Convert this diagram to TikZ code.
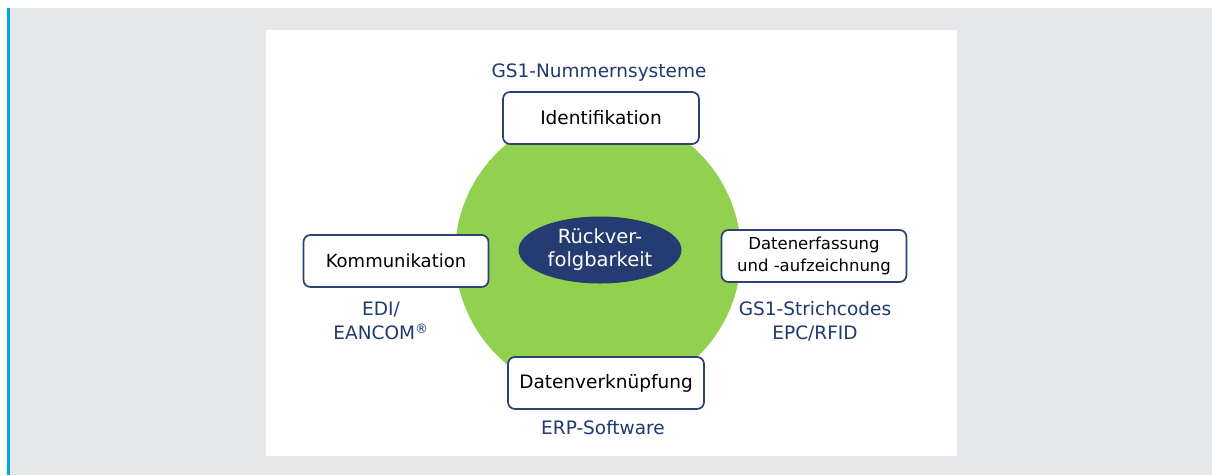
\documentclass[tikz,border=0pt]{standalone}
\usepackage{fontspec}
\setmainfont{DejaVu Sans}
\usepackage{xcolor}
\usetikzlibrary{positioning,shapes.geometric}

\definecolor{pagegrey}{HTML}{E6E7E9}
\definecolor{barblue}{HTML}{00A6E2}
\definecolor{ringgreen}{HTML}{92D050}
\definecolor{coreblue}{HTML}{253C73}
\definecolor{boxline}{HTML}{2E4272}
\definecolor{tagblue}{HTML}{1F3A6E}

\tikzset{
    topic/.style={draw=boxline, line width=1.7pt, rounded corners=7pt, fill=white,
        text=black, align=center, inner sep=0pt, minimum height=52pt,
        font=\fontsize{18.5}{22}\selectfont},
    tag/.style={text=tagblue, align=center, inner sep=0pt,
        font=\fontsize{18.5}{24}\selectfont}
}

\begin{document}
\begin{tikzpicture}[x=1pt,y=-1pt]
    \useasboundingbox (0,0) rectangle (1212,475);

    % Background
    \fill[pagegrey] (7,8) rectangle (1212,475);
    \fill[barblue] (7,8) rectangle (10,475);
    \fill[white] (266,30) rectangle (957,456);

    % Circle and centre
    \node[circle, fill=ringgreen, minimum size=286pt, inner sep=0pt] (ring) at (598,254) {};
    \node[ellipse, fill=coreblue, minimum width=163pt, minimum height=67pt, inner sep=0pt,
        text=white, align=center, font=\fontsize{19.5}{23}\selectfont] (core) at (600,250)
        {Rückver-\\folgbarkeit};

    % Boxes
    \node[topic, minimum width=196pt] (ident) at (601,118) {Identifikation};
    \node[topic, minimum width=185pt, font=\fontsize{18}{22}\selectfont] (komm) at (396,261) {Kommunikation};
    \node[topic, minimum width=185pt, font=\fontsize{16.5}{22}\selectfont] (erfass) at (814,256)
        {Datenerfassung\\und -aufzeichnung};
    \node[topic, minimum width=196pt] (verkn) at (606,383) {Datenverknüpfung};

    % Labels
    \node[tag] (nummern) at (599,73) {GS1-Nummernsysteme};
    \node[tag] (edi) at (381,321) {EDI/\\EANCOM\textsuperscript{®}};
    \node[tag] (strich) at (815,321) {GS1-Strichcodes\\EPC/RFID};
    \node[tag] (erp) at (603,428) {ERP-Software};
\end{tikzpicture}
\end{document}
